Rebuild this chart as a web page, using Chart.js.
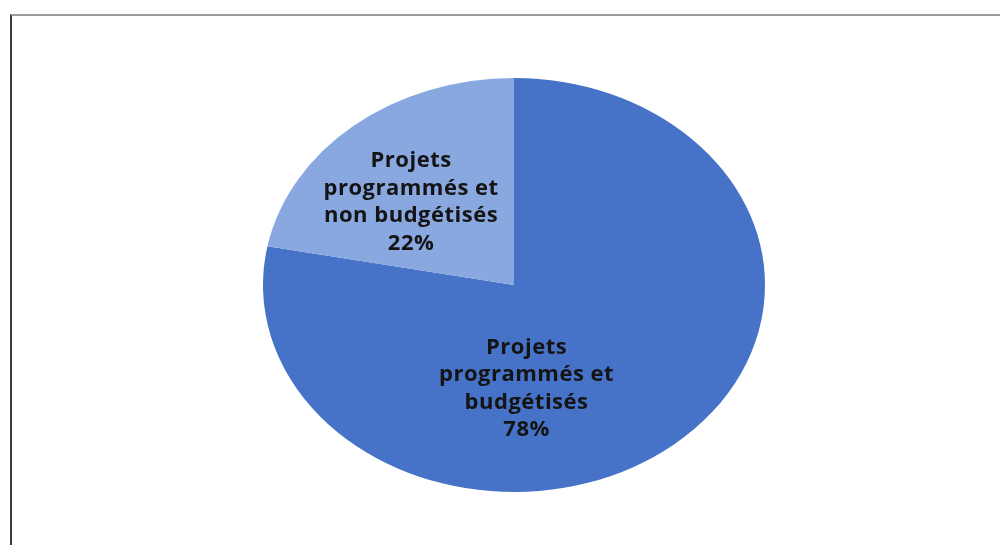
<!DOCTYPE html>
<html>
<head>
<meta charset="utf-8">
<script src="https://cdn.jsdelivr.net/npm/chart.js@4"></script>
<style>
  html, body { margin: 0; padding: 0; background: #ffffff; }
  #wrap { position: relative; width: 1000px; height: 545px; overflow: hidden; }
  #frame { position: absolute; left: 10px; top: 14px; width: 990px; height: 540px;
           border-top: 2px solid #9c9c9c; border-left: 2px solid #3c3c3c; box-sizing: border-box; }
  canvas { position: absolute; left: 0; top: 0; }
</style>
</head>
<body>
<div id="wrap">
  <div id="frame"></div>
  <canvas id="c" width="1000" height="545"></canvas>
</div>
<script>
// ---- data ----
const categories = [
  ["Projets", "programmés et", "budgétisés"],
  ["Projets", "programmés et", "non budgétisés"]
];
const values = [78, 22];
const percentLabels = ["78%", "22%"];
const sliceColors = ["#4673c8", "#89a8e0"];

// ---- layout constants (not data) ----
const ellipseStretchX = 251 / 207;           // pie is drawn as an ellipse
const labelAnchors = [[0.05, 0.50], [-0.41, -0.40]]; // fractions of radii from centre

const ellipsePlugin = {
  id: 'ellipse',
  beforeDatasetsDraw(chart) {
    const meta = chart.getDatasetMeta(0);
    const arc = meta.data[0];
    const ctx = chart.ctx;
    ctx.save();
    ctx.translate(arc.x, arc.y);
    ctx.scale(ellipseStretchX, 1);
    ctx.translate(-arc.x, -arc.y);
  },
  afterDatasetsDraw(chart) {
    chart.ctx.restore();
  },
  afterDraw(chart) {
    const meta = chart.getDatasetMeta(0);
    const ctx = chart.ctx;
    ctx.save();
    ctx.fillStyle = '#141414';
    ctx.textAlign = 'center';
    ctx.textBaseline = 'middle';
    ctx.font = 'bold 22px "Open Sans", sans-serif';
    ctx.letterSpacing = '0.5px';
    const lineH = 27.5;
    meta.data.forEach((arc, i) => {
      const r = arc.outerRadius;
      const cx = arc.x + labelAnchors[i][0] * r * ellipseStretchX;
      const cy = arc.y + labelAnchors[i][1] * r;
      const lines = categories[i].concat([percentLabels[i]]);
      const top = cy - (lines.length - 1) * lineH / 2;
      lines.forEach((t, k) => ctx.fillText(t, cx, top + k * lineH));
    });
    ctx.restore();
  }
};

new Chart(document.getElementById('c'), {
  type: 'pie',
  data: {
    labels: categories.map(c => c.join(' ')),
    datasets: [{
      data: values,
      backgroundColor: sliceColors,
      borderWidth: 0
    }]
  },
  options: {
    responsive: false,
    animation: false,
    devicePixelRatio: 1,
    layout: { padding: { left: 28, right: 0, top: 78, bottom: 53 } },
    plugins: { legend: { display: false }, tooltip: { enabled: false } }
  },
  plugins: [ellipsePlugin]
});
</script>
</body>
</html>
